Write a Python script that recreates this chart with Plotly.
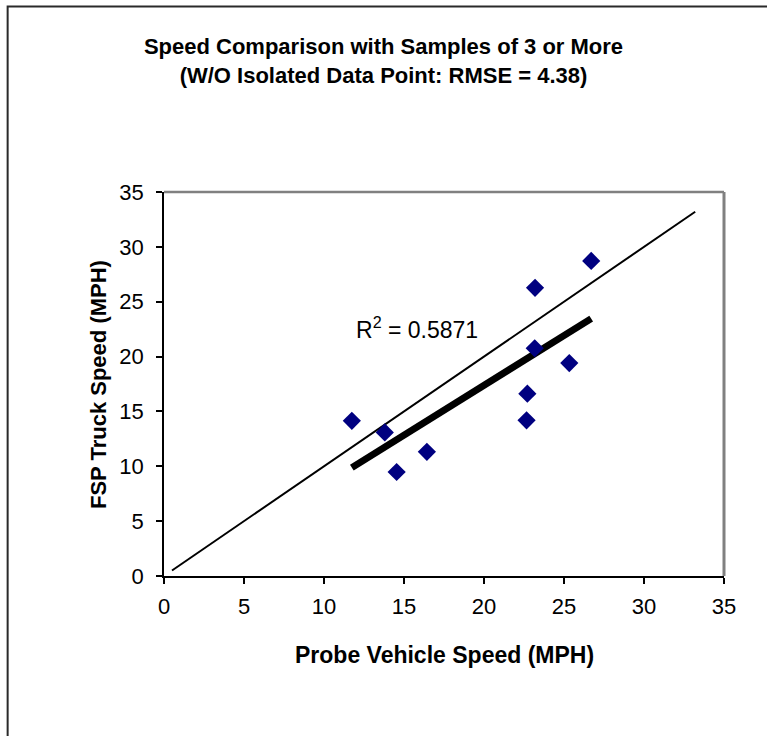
import numpy as np
import plotly.graph_objects as go

# Data
probe_speed = [11.74, 13.80, 14.54, 16.43, 22.71, 22.66, 23.19, 23.17, 25.33, 26.70]
fsp_speed = [14.14, 13.09, 9.48, 11.32, 16.62, 14.19, 26.27, 20.76, 19.41, 28.72]
diag_x = [0.5, 33.2]
r2_text = "R<sup>2</sup> = 0.5871"
title_lines = ["Speed Comparison with Samples of 3 or More",
               "(W/O Isolated Data Point: RMSE = 4.38)"]
x_title = "Probe Vehicle Speed (MPH)"
y_title = "FSP Truck Speed (MPH)"
tick_vals = [0, 5, 10, 15, 20, 25, 30, 35]

FONT = "Liberation Sans, Arial, sans-serif"

# linear trend line
slope, intercept = np.polyfit(probe_speed, fsp_speed, 1)
trend_x = [min(probe_speed), max(probe_speed)]
trend_y = [slope * v + intercept for v in trend_x]

fig = go.Figure()
fig.add_trace(go.Scatter(x=diag_x, y=diag_x, mode="lines",
                         line=dict(color="black", width=2), hoverinfo="skip"))
fig.add_trace(go.Scatter(x=trend_x, y=trend_y, mode="lines",
                         line=dict(color="black", width=7), hoverinfo="skip"))
fig.add_trace(go.Scatter(x=probe_speed, y=fsp_speed, mode="markers",
                         marker=dict(symbol="diamond", size=14, color="#000080",
                                     line=dict(width=0))))

axis_common = dict(range=[0, 35], tickvals=tick_vals, ticks="outside", ticklen=6,
                   tickcolor="black", tickwidth=1.5, showgrid=False, zeroline=False,
                   showline=True, linecolor="black", linewidth=1.5,
                   tickfont=dict(family=FONT, size=22, color="black"))

fig.update_layout(
    width=767, height=736,
    margin=dict(l=164, r=42.5, t=192, b=160),
    paper_bgcolor="white", plot_bgcolor="white",
    showlegend=False,
    font=dict(family=FONT, color="black"),
    title=dict(text="<b>" + "<br>".join(title_lines) + "</b>",
               x=0.5, xref="container", xanchor="center",
               y=1 - 54 / 736, yref="container", yanchor="middle",
               font=dict(family=FONT, size=22, color="black")),
    xaxis=dict(**axis_common, ticklabelstandoff=4),
    yaxis=dict(**axis_common, ticklabelstandoff=8),
)

# plot-area top & right border (gray)
fig.add_shape(type="line", xref="paper", yref="paper", x0=0, x1=1, y0=1, y1=1,
              line=dict(color="#808080", width=2.5))
fig.add_shape(type="line", xref="paper", yref="paper", x0=1, x1=1, y0=0, y1=1,
              line=dict(color="#808080", width=3))
# outer chart border
fig.add_shape(type="rect", xref="paper", yref="paper",
              x0=(7.5 - 164) / 560.5, x1=(775 - 164) / 560.5,
              y0=(576 - 745) / 384, y1=(576 - 6.5) / 384,
              line=dict(color="#2a2a2a", width=2), layer="below")

fig.add_annotation(text="<b>" + x_title + "</b>", xref="paper", yref="paper",
                   x=0.5, y=(576 - 655) / 384, showarrow=False,
                   xanchor="center", yanchor="middle",
                   font=dict(family=FONT, size=23, color="black"))
fig.add_annotation(text="<b>" + y_title + "</b>", xref="paper", yref="paper",
                   x=(98 - 164) / 560.5, y=(576 - 385) / 384, showarrow=False,
                   textangle=-90, xanchor="center", yanchor="middle",
                   font=dict(family=FONT, size=22, color="black"))
fig.add_annotation(text=r2_text, xref="x", yref="y", x=11.9, y=22.6,
                   showarrow=False, xanchor="left", yanchor="middle",
                   font=dict(family=FONT, size=23, color="black"))

fig.write_html("out.html")
